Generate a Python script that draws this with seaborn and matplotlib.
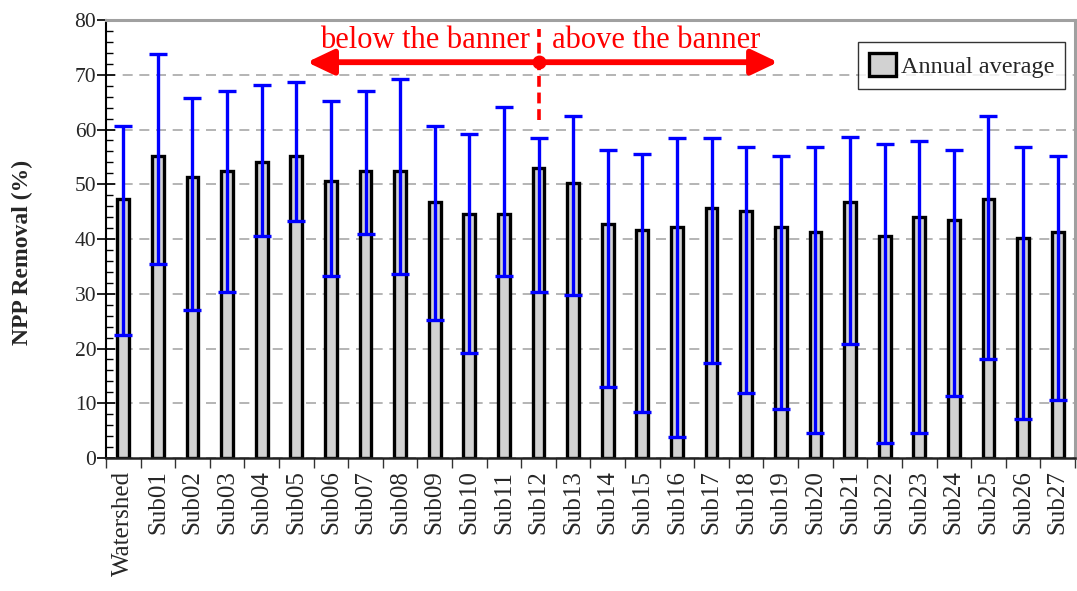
import numpy as np
import pandas as pd
import matplotlib
matplotlib.use("Agg")
import matplotlib.pyplot as plt
from matplotlib.patches import Patch
from matplotlib.ticker import MultipleLocator, FixedLocator
import seaborn as sns

# Sites along the x axis
sites = ["Watershed"] + [f"Sub{i:02d}" for i in range(1, 28)]

# Annual average NPP removal (%) per site
annual_avg = [47.3, 55.2, 51.3, 52.4, 54.0, 55.2, 50.6, 52.4, 52.4, 46.8,
              44.5, 44.5, 53.0, 50.2, 42.8, 41.7, 42.2, 45.6, 45.1, 42.2,
              41.2, 46.8, 40.5, 44.0, 43.4, 47.3, 40.1, 41.2]

# Yearly maximum and minimum removal (%) per site
annual_max = [60.7, 73.8, 65.8, 67.0, 68.1, 68.7, 65.3, 67.0, 69.2, 60.7,
              59.1, 64.1, 58.5, 62.4, 56.2, 55.6, 58.5, 58.5, 56.8, 55.2,
              56.9, 58.6, 57.4, 57.9, 56.3, 62.4, 56.9, 55.2]
annual_min = [22.4, 35.4, 27.0, 30.4, 40.5, 43.3, 33.2, 41.0, 33.7, 25.3,
              19.1, 33.2, 30.4, 29.8, 12.9, 8.4, 3.9, 17.4, 11.8, 8.9,
              4.5, 20.8, 2.8, 4.5, 11.3, 18.0, 7.2, 10.6]

yticks = [0, 10, 20, 30, 40, 50, 60, 70, 80]

df = pd.DataFrame({"site": sites, "avg": annual_avg,
                   "max": annual_max, "min": annual_min})

sns.set_theme(style="white")
plt.rcParams["font.family"] = ["Liberation Serif", "DejaVu Serif"]

fig = plt.figure(figsize=(10.77, 5.91), dpi=100)
ax = fig.add_axes([0.0984, 0.2250, 0.8997, 0.7411])

bar_fill = "#d2d2d2"
sns.barplot(data=df, x="site", y="avg", color=bar_fill, saturation=1,
            width=0.34, edgecolor="black", linewidth=2.4, errorbar=None,
            ax=ax, zorder=2)

xpos = np.arange(len(df))
lower = df["avg"] - df["min"]
upper = df["max"] - df["avg"]
ax.errorbar(xpos, df["avg"], yerr=[lower, upper], fmt="none",
            ecolor="#0000ff", elinewidth=2.4, capsize=6.5, capthick=2.4,
            zorder=3)

# Axes limits and ticks
ax.set_xlim(-0.5, len(df) - 0.5)
ax.set_ylim(0, 80)
ax.set_yticks(yticks)
ax.set_yticklabels([str(t) for t in yticks], fontsize=15.5)
ax.yaxis.set_minor_locator(MultipleLocator(2))
ax.tick_params(axis="y", which="major", direction="inout", length=13,
               width=1.2, color="black", pad=0.5, left=True)
ax.tick_params(axis="y", which="minor", direction="in", length=5,
               width=1.0, color="black", left=True)

ax.set_xticks(xpos)
ax.set_xticklabels(sites, rotation=90, fontsize=18)
ax.xaxis.set_minor_locator(FixedLocator(np.arange(-0.5, len(df), 1.0)))
ax.tick_params(axis="x", which="major", length=0, pad=9)
ax.tick_params(axis="x", which="minor", direction="out", length=7,
               width=1.0, color="#333333", bottom=True)

ax.set_xlabel("")
ax.set_ylabel("NPP Removal (%)", fontsize=17, fontweight="bold")
ax.yaxis.set_label_coords(-0.0753, 0.47)

# Grid and frame
ax.set_axisbelow(True)
ax.yaxis.grid(True, linestyle=(0, (6, 4)), color="#a8a8a8", linewidth=1.2)
ax.xaxis.grid(False)
for side in ("top", "right"):
    ax.spines[side].set_color("#a0a0a0")
    ax.spines[side].set_linewidth(2.2)
ax.spines["left"].set_color("black")
ax.spines["left"].set_linewidth(1.5)
ax.spines["bottom"].set_color("#222222")
ax.spines["bottom"].set_linewidth(1.8)

# Banner annotation
split_x = 12
arrow_y = 72.3
red = "#ff0000"
arrow_style = "-|>,head_length=0.8,head_width=0.38"
ax.annotate("", xy=(5.31, arrow_y), xytext=(split_x, arrow_y),
            arrowprops=dict(arrowstyle=arrow_style, color=red, lw=4.2,
                            mutation_scale=20, shrinkA=0, shrinkB=0),
            zorder=5)
ax.annotate("", xy=(18.92, arrow_y), xytext=(split_x, arrow_y),
            arrowprops=dict(arrowstyle=arrow_style, color=red, lw=4.2,
                            mutation_scale=20, shrinkA=0, shrinkB=0),
            zorder=5)
ax.plot([split_x], [arrow_y], marker="o", ms=9, color=red, zorder=6)
ax.plot([split_x, split_x], [61.7, 78.4], color=red, lw=2.6,
        linestyle=(0, (3, 1.6)), zorder=5)
ax.text(8.72, 74.9, "below the banner", color=red, fontsize=22,
        ha="center", va="baseline", zorder=6)
ax.text(15.4, 74.9, "above the banner", color=red, fontsize=22,
        ha="center", va="baseline", zorder=6)

# Legend
handle = Patch(facecolor=bar_fill, edgecolor="black", linewidth=2.4,
               label="Annual average")
leg = ax.legend(handles=[handle], loc="upper right",
                bbox_to_anchor=(0.99, 0.95), fontsize=17.5, frameon=True,
                fancybox=False, handlelength=1.1, handleheight=1.1,
                handletextpad=0.2, borderpad=0.45, borderaxespad=0)
leg.get_frame().set_edgecolor("black")
leg.get_frame().set_linewidth(1.0)

fig.savefig("out.png", dpi=100)
